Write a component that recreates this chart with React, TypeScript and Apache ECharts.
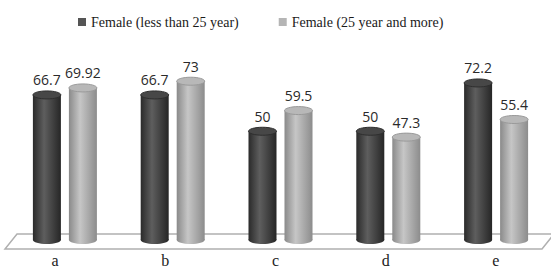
import React, { useEffect, useRef } from "react";
import * as echarts from "echarts";

const categories = ["a", "b", "c", "d", "e"];
const seriesNames = ["Female (less than 25 year)", "Female (25 year and more)"];
const youngerValues = [66.7, 66.7, 50, 50, 72.2];
const olderValues = [69.92, 73, 59.5, 47.3, 55.4];

const BAR_W = 28;
const RY = 4;

function makeRender(offset: number, body: string[], topFill: string, topStroke: string) {
  return (params: any, api: any) => {
    const idx = api.value(0);
    const val = api.value(1);
    const top = api.coord([idx, val]);
    const base = api.coord([idx, 0]);
    const cx = top[0] + offset;
    const grad = () =>
      new echarts.graphic.LinearGradient(0, 0, 1, 0, [
        { offset: 0, color: body[0] },
        { offset: 0.4, color: body[1] },
        { offset: 1, color: body[2] },
      ]);
    return {
      type: "group",
      children: [
        {
          type: "ellipse",
          shape: { cx, cy: base[1], rx: BAR_W / 2, ry: RY },
          style: { fill: grad() },
        },
        {
          type: "rect",
          shape: { x: cx - BAR_W / 2, y: top[1], width: BAR_W, height: base[1] - top[1] },
          style: { fill: grad() },
        },
        {
          type: "ellipse",
          shape: { cx, cy: top[1], rx: BAR_W / 2, ry: RY },
          style: { fill: topFill, stroke: topStroke, lineWidth: 1 },
        },
        {
          type: "text",
          style: {
            text: String(val),
            x: cx,
            y: top[1] - RY - 4,
            align: "center",
            verticalAlign: "bottom",
            fontFamily: "Open Sans",
            fontSize: 14,
            fill: "#2a2a2a",
          },
        },
      ],
    };
  };
}

export default function App() {
  const ref = useRef<HTMLDivElement>(null);
  useEffect(() => {
    if (!ref.current) return;
    const chart = echarts.init(ref.current, undefined, { renderer: "svg" });
    chart.setOption({
      animation: false,
      backgroundColor: "#ffffff",
      legend: {
        left: 73,
        top: 10,
        itemWidth: 8,
        itemHeight: 8,
        itemGap: 40,
        icon: "rect",
        textStyle: { fontFamily: "Liberation Serif", fontSize: 14, color: "#1a1a1a" },
        data: [
          { name: seriesNames[0], itemStyle: { color: "#555555" } },
          { name: seriesNames[1], itemStyle: { color: "#b5b5b5" } },
        ],
      },
      graphic: [
        {
          type: "polygon",
          z: -1,
          shape: { points: [[17, 234], [554, 234], [542, 249], [5, 249]] },
          style: { fill: "#ffffff", stroke: "#b0b0b0", lineWidth: 1.5 },
        },
      ],
      grid: [
        { left: 11, right: 1, top: 66, bottom: 30 },
        { left: -4, right: -4, top: 245, height: 1 },
      ],
      xAxis: [
        { type: "category", data: categories, gridIndex: 0, show: false },
        {
          type: "category",
          data: categories,
          gridIndex: 1,
          axisLine: { show: false },
          axisTick: { show: false },
          axisLabel: {
            margin: 6,
            fontFamily: "Liberation Serif",
            fontSize: 16,
            color: "#222222",
          },
        },
      ],
      yAxis: [
        { type: "value", min: 0, max: 80, gridIndex: 0, show: false },
        { type: "value", gridIndex: 1, show: false },
      ],
      series: [
        {
          name: seriesNames[0],
          type: "custom",
          xAxisIndex: 0,
          yAxisIndex: 0,
          z: 3,
          itemStyle: { color: "#555555" },
          encode: { x: 0, y: 1 },
          data: categories.map((_, i) => [i, youngerValues[i]]),
          renderItem: makeRender(-18, ["#2a2a2a", "#5e5e5e", "#262626"], "#474747", "#2e2e2e"),
        },
        {
          name: seriesNames[1],
          type: "custom",
          xAxisIndex: 0,
          yAxisIndex: 0,
          z: 3,
          itemStyle: { color: "#b5b5b5" },
          encode: { x: 0, y: 1 },
          data: categories.map((_, i) => [i, olderValues[i]]),
          renderItem: makeRender(18, ["#8a8a8a", "#c6c6c6", "#8c8c8c"], "#b8b8b8", "#9a9a9a"),
        },
      ],
    });
    return () => chart.dispose();
  }, []);
  return <div ref={ref} style={{ width: 551, height: 270, position: "absolute", left: 0, top: 0 }} />;
}
